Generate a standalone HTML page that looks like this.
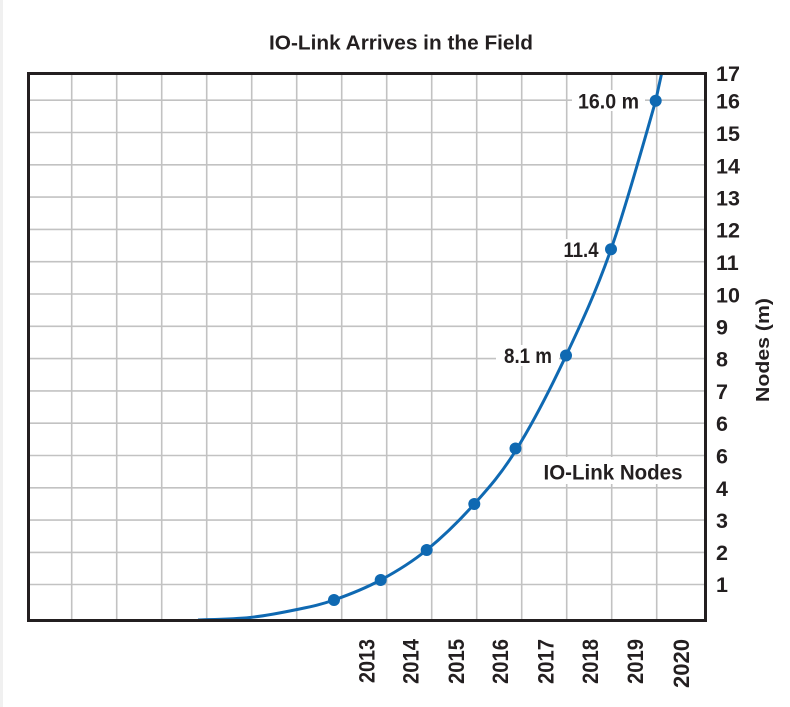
<!DOCTYPE html>
<html>
<head>
<meta charset="utf-8">
<style>
  html, body { margin: 0; padding: 0; background: #ffffff; }
  body { width: 790px; height: 707px; overflow: hidden; position: relative; }
  svg { display: block; }
  text { font-family: "Liberation Sans", "DejaVu Sans", sans-serif; font-weight: bold; fill: #231f20; }
</style>
</head>
<body>
<svg width="790" height="707" viewBox="0 0 790 707" xmlns="http://www.w3.org/2000/svg">
  <rect x="0" y="0" width="790" height="707" fill="#ffffff"/>
  <rect x="0" y="0" width="3" height="707" fill="#f0f0f0"/>

  <!-- Title -->
  <text x="269" y="49.5" font-size="20.5" textLength="264" lengthAdjust="spacingAndGlyphs">IO-Link Arrives in the Field</text>

  <!-- Grid -->
  <g stroke="#c2c2c2" stroke-width="1.6">
    <line x1="71.7" y1="73" x2="71.7" y2="620"/>
    <line x1="116.7" y1="73" x2="116.7" y2="620"/>
    <line x1="161.7" y1="73" x2="161.7" y2="620"/>
    <line x1="206.7" y1="73" x2="206.7" y2="620"/>
    <line x1="251.7" y1="73" x2="251.7" y2="620"/>
    <line x1="296.7" y1="73" x2="296.7" y2="620"/>
    <line x1="341.7" y1="73" x2="341.7" y2="620"/>
    <line x1="386.7" y1="73" x2="386.7" y2="620"/>
    <line x1="431.7" y1="73" x2="431.7" y2="620"/>
    <line x1="476.7" y1="73" x2="476.7" y2="620"/>
    <line x1="521.7" y1="73" x2="521.7" y2="620"/>
    <line x1="566.7" y1="73" x2="566.7" y2="620"/>
    <line x1="611.7" y1="73" x2="611.7" y2="620"/>
    <line x1="656.7" y1="73" x2="656.7" y2="620"/>

    <line x1="28" y1="100.2" x2="705" y2="100.2"/>
    <line x1="28" y1="132.5" x2="705" y2="132.5"/>
    <line x1="28" y1="164.8" x2="705" y2="164.8"/>
    <line x1="28" y1="197.1" x2="705" y2="197.1"/>
    <line x1="28" y1="229.4" x2="705" y2="229.4"/>
    <line x1="28" y1="261.7" x2="705" y2="261.7"/>
    <line x1="28" y1="294.0" x2="705" y2="294.0"/>
    <line x1="28" y1="326.3" x2="705" y2="326.3"/>
    <line x1="28" y1="358.6" x2="705" y2="358.6"/>
    <line x1="28" y1="390.9" x2="705" y2="390.9"/>
    <line x1="28" y1="423.2" x2="705" y2="423.2"/>
    <line x1="28" y1="455.5" x2="705" y2="455.5"/>
    <line x1="28" y1="487.8" x2="705" y2="487.8"/>
    <line x1="28" y1="520.1" x2="705" y2="520.1"/>
    <line x1="28" y1="552.4" x2="705" y2="552.4"/>
    <line x1="28" y1="584.5" x2="705" y2="584.5"/>
  </g>

  <!-- Label backgrounds -->
  <rect x="572" y="90" width="73" height="21" fill="#ffffff"/>
  <rect x="558" y="239" width="45" height="21" fill="#ffffff"/>
  <rect x="496" y="345" width="63" height="21" fill="#ffffff"/>
  <rect x="537" y="457" width="152" height="27" fill="#ffffff"/>

  <!-- Curve -->
  <path d="M198,620 C206.7,619.6 233.5,619.25 250,617.5 C266.5,615.75 283,612.4 297,609.5 C311,606.6 320.05,604.9 334,600 C347.95,595.1 365.25,588.3 380.7,580 C396.15,571.7 411.1,562.7 426.7,550 C442.3,537.3 459.3,520.8 474.3,504 C489.3,487.2 501.4,473.7 516.7,449 C531.98,424.3 550.3,389 566,355.7 C581.7,322.4 596.05,291.8 611,249.3 C625.95,206.8 647.25,130.1 655.7,100.7 C657.7,91.5 659.7,82.2 661.7,73"
        fill="none" stroke="#0f69b2" stroke-width="3"/>

  <!-- Dots -->
  <g fill="#0f69b2">
    <circle cx="334" cy="600" r="6"/>
    <circle cx="380.7" cy="580" r="6"/>
    <circle cx="426.7" cy="550" r="6"/>
    <circle cx="474.3" cy="504" r="6"/>
    <circle cx="515.5" cy="448.5" r="6"/>
    <circle cx="566" cy="355.5" r="6"/>
    <circle cx="611" cy="249.3" r="6"/>
    <circle cx="655.7" cy="100.7" r="6"/>
  </g>

  <!-- Border -->
  <rect x="28.5" y="73.5" width="677" height="547" fill="none" stroke="#231f20" stroke-width="3"/>

  <!-- Annotations -->
  <text x="578" y="108.5" font-size="21" textLength="61" lengthAdjust="spacingAndGlyphs">16.0 m</text>
  <text x="563.5" y="257" font-size="21" textLength="35" lengthAdjust="spacingAndGlyphs">11.4</text>
  <text x="504" y="363" font-size="21" textLength="48" lengthAdjust="spacingAndGlyphs">8.1 m</text>
  <text x="543.5" y="479.5" font-size="21" textLength="139" lengthAdjust="spacingAndGlyphs">IO-Link Nodes</text>

  <!-- Y tick labels -->
  <g font-size="21.5">
    <text x="716" y="81">17</text>
    <text x="716" y="108.5">16</text>
    <text x="716" y="141">15</text>
    <text x="716" y="173.5">14</text>
    <text x="716" y="205.5">13</text>
    <text x="716" y="237.5">12</text>
    <text x="716" y="270">11</text>
    <text x="716" y="302.5">10</text>
    <text x="716" y="334.5">9</text>
    <text x="716" y="366.5">8</text>
    <text x="716" y="399">7</text>
    <text x="716" y="431">6</text>
    <text x="716" y="463.5">6</text>
    <text x="716" y="496">4</text>
    <text x="716" y="528">3</text>
    <text x="716" y="560">2</text>
    <text x="716" y="592">1</text>
  </g>

  <!-- Y axis title -->
  <text transform="translate(769,350) rotate(-90)" text-anchor="middle" font-size="18" textLength="104" lengthAdjust="spacingAndGlyphs">Nodes (m)</text>

  <!-- X year labels -->
  <g font-size="22.5" text-anchor="end">
    <text transform="translate(374.5,639) rotate(-90)" textLength="44" lengthAdjust="spacingAndGlyphs">2013</text>
    <text transform="translate(418.5,639) rotate(-90)" textLength="45" lengthAdjust="spacingAndGlyphs">2014</text>
    <text transform="translate(464,639) rotate(-90)" textLength="45" lengthAdjust="spacingAndGlyphs">2015</text>
    <text transform="translate(508,639) rotate(-90)" textLength="45" lengthAdjust="spacingAndGlyphs">2016</text>
    <text transform="translate(553.5,639) rotate(-90)" textLength="45" lengthAdjust="spacingAndGlyphs">2017</text>
    <text transform="translate(598,639) rotate(-90)" textLength="45" lengthAdjust="spacingAndGlyphs">2018</text>
    <text transform="translate(643,639) rotate(-90)" textLength="45" lengthAdjust="spacingAndGlyphs">2019</text>
    <text transform="translate(689,639) rotate(-90)" textLength="49" lengthAdjust="spacingAndGlyphs">2020</text>
  </g>
</svg>
</body>
</html>
